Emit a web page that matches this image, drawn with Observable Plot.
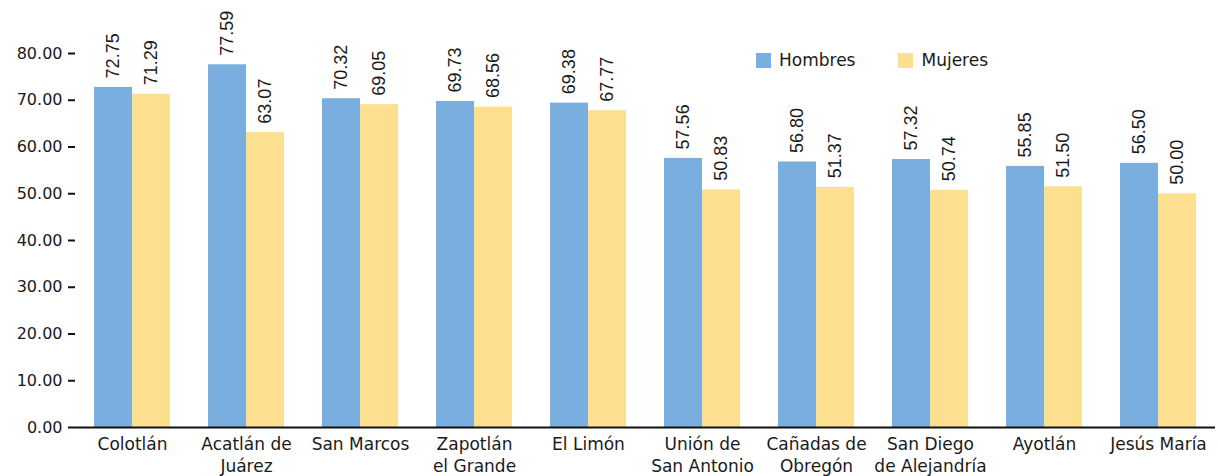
<!DOCTYPE html>
<html>
<head>
<meta charset="utf-8">
<script src="https://cdn.jsdelivr.net/npm/d3@7"></script>
<script src="https://cdn.jsdelivr.net/npm/@observablehq/plot@0.6"></script>
<style>
  body { margin: 0; background: #fff; }
  #wrap { position: relative; width: 1218px; height: 476px; font-family: "DejaVu Sans", sans-serif; color: #1a1a1a; }
  #legend { position: absolute; top: 50px; left: 756px; display: flex; align-items: center; font-size: 17px; }
  .sw { width: 15px; height: 15px; display: inline-block; margin-right: 8px; }
  .item { display: flex; align-items: center; }
</style>
</head>
<body>
<div id="wrap"><div id="legend"></div></div>
<script>
const groups = ["Colotlán","Acatlán de Juárez","San Marcos","Zapotlán el Grande","El Limón","Unión de San Antonio","Cañadas de Obregón","San Diego de Alejandría","Ayotlán","Jesús María"];
const groupLabels = ["Colotlán","Acatlán de\nJuárez","San Marcos","Zapotlán\nel Grande","El Limón","Unión de\nSan Antonio","Cañadas de\nObregón","San Diego\nde Alejandría","Ayotlán","Jesús María"];
const series = ["Hombres","Mujeres"];
const hombres = [72.75,77.59,70.32,69.73,69.38,57.56,56.80,57.32,55.85,56.50];
const mujeres = [71.29,63.07,69.05,68.56,67.77,50.83,51.37,50.74,51.50,50.00];
const colors = ["#7aaede","#fde08f"];
const yTicks = [0,10,20,30,40,50,60,70,80];

const data = groups.flatMap((g, i) => [
  {group: g, sex: series[0], value: hombres[i]},
  {group: g, sex: series[1], value: mujeres[i]}
]);

const chart = Plot.plot({
  width: 1218, height: 476,
  marginLeft: 71, marginRight: 0, marginTop: 53, marginBottom: 49,
  style: {fontFamily: "'DejaVu Sans', sans-serif", color: "#1a1a1a", background: "transparent"},
  fx: {domain: groups, padding: 0, label: null},
  x: {domain: series, axis: null, paddingInner: 0, paddingOuter: 0.5},
  y: {domain: [0, 80]},
  color: {domain: series, range: colors},
  marks: [
    Plot.barY(data, {fx: "group", x: "sex", y: "value", fill: "sex"}),
    Plot.text(data, {fx: "group", x: "sex", y: "value", text: d => d.value.toFixed(2), rotate: -90, textAnchor: "start", dy: -9, fontSize: 18, fontFamily: "'Liberation Sans', Arial, sans-serif", fill: "#1a1a1a"}),
    Plot.ruleY([0], {stroke: "#111", strokeWidth: 2}),
    Plot.axisY({ticks: yTicks, tickFormat: d => d.toFixed(2), tickSize: 7, tickPadding: 6, line: true, stroke: "#111", strokeWidth: 2, fontSize: 16, label: null}),
    Plot.axisFx({anchor: "bottom", tickSize: 0, tickPadding: 7, tickFormat: d => groupLabels[groups.indexOf(d)], lineHeight: 1.3, fontSize: 17, label: null})
  ]
});
document.getElementById("wrap").prepend(chart);

const legend = document.getElementById("legend");
series.forEach((s, i) => {
  const item = document.createElement("div");
  item.className = "item";
  if (i > 0) item.style.marginLeft = "43px";
  const sw = document.createElement("span");
  sw.className = "sw";
  sw.style.background = colors[i];
  const t = document.createElement("span");
  t.textContent = s;
  item.append(sw, t);
  legend.append(item);
});
</script>
</body>
</html>
